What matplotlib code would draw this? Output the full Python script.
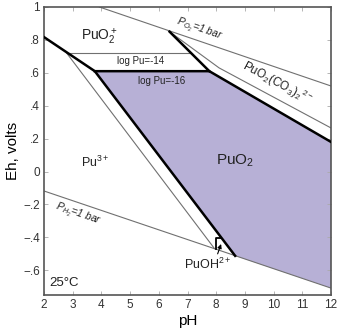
import matplotlib
matplotlib.use("Agg")
import matplotlib.pyplot as plt
from matplotlib.patches import Polygon

plt.rcParams['font.family'] = ['Liberation Sans', 'DejaVu Sans']
plt.rcParams['mathtext.fontset'] = 'custom'
plt.rcParams['mathtext.rm'] = 'Liberation Sans'
plt.rcParams['mathtext.it'] = 'Liberation Sans:italic'
plt.rcParams['mathtext.bf'] = 'Liberation Sans:bold'

# ---- data ----
xticks = [2, 3, 4, 5, 6, 7, 8, 9, 10, 11, 12]
yticks = [-0.6, -0.4, -0.2, 0.0, 0.2, 0.4, 0.6, 0.8, 1.0]
ytick_labels = ['\u2212.6', '\u2212.4', '\u2212.2', '0', '.2', '.4', '.6', '.8', '1']

# water stability limits
o2_ph = [3.93, 12.0]
o2_eh = [1.0, 0.52]
h2_ph = [2.0, 12.0]
h2_eh = [-0.118, -0.708]

# log Pu = -16 boundaries (thick)
t1_ph = [2.0, 3.77, 8.66]
t1_eh = [0.817, 0.61, -0.512]
t2_ph = [3.77, 7.76, 12.0]
t2_eh = [0.61, 0.61, 0.18]
t3_ph = [6.375, 7.76]
t3_eh = [0.85, 0.61]
t4_ph = [8.0, 8.0, 8.18]
t4_eh = [-0.472, -0.405, -0.405]

# log Pu = -14 boundaries (thin)
n1_ph = [2.79, 7.94]
n1_eh = [0.72, -0.468]
n2_ph = [2.79, 7.13]
n2_eh = [0.72, 0.72]
n3_ph = [6.375, 8.1, 12.0]
n3_eh = [0.85, 0.63, 0.265]

# PuO2 stability field
fill_ph = [3.77, 7.76, 12.0, 12.0, 8.66]
fill_eh = [0.61, 0.61, 0.18, -0.708, -0.512]

fig = plt.figure(figsize=(3.37, 3.33), dpi=100)
ax = fig.add_axes([0.1306, 0.1141, 0.8516, 0.8649])

ax.add_patch(Polygon(list(zip(fill_ph, fill_eh)), closed=True,
                     facecolor='#b7b0d6', edgecolor='none', zorder=1))

thin = dict(color='#707070', lw=0.8, zorder=2)
thick = dict(color='black', lw=1.8, zorder=3, solid_joinstyle='miter')
ax.plot(o2_ph, o2_eh, **thin)
ax.plot(h2_ph, h2_eh, **thin)
ax.plot(n1_ph, n1_eh, **thin)
ax.plot(n2_ph, n2_eh, **thin)
ax.plot(n3_ph, n3_eh, **thin)
ax.plot(t1_ph, t1_eh, **thick)
ax.plot(t2_ph, t2_eh, **thick)
ax.plot(t3_ph, t3_eh, **thick)
ax.plot(t4_ph, t4_eh, color='black', lw=1.3, zorder=3)

ax.set_xlim(2, 12)
ax.set_ylim(-0.75, 1.0)
ax.set_xticks(xticks)
ax.set_yticks(yticks)
ax.set_yticklabels(ytick_labels)
ax.tick_params(direction='in', length=3, width=0.6, color='#aaaaaa',
               top=True, right=True, labelsize=8.5, labelcolor='#333333', pad=3)
for s in ax.spines.values():
    s.set_color('#555555')
    s.set_linewidth(1.2)

ax.set_xlabel('pH', fontsize=11, labelpad=2)
ax.set_ylabel('Eh, volts', fontsize=11, labelpad=2)

tc = '#222222'
ax.text(3.94, 0.815, r'PuO$_2^+$', fontsize=10, ha='center', va='center', color=tc)
ax.text(5.37, 0.67, 'log Pu=-14', fontsize=7, ha='center', va='center', color=tc)
ax.text(6.1, 0.548, 'log Pu=-16', fontsize=7, ha='center', va='center', color=tc)
ax.text(7.42, 0.86, r'P$_{O_2}$=1 bar', fontsize=7.5, ha='center', va='center',
        rotation=-19, style='italic', color=tc)
ax.text(10.13, 0.536, r'PuO$_2$(CO$_3$)$_2$$^{2-}$', fontsize=8.5, ha='center',
        va='center', rotation=-28, color=tc)
ax.text(3.8, 0.058, r'Pu$^{3+}$', fontsize=9, ha='center', va='center', color=tc)
ax.text(8.67, 0.063, r'PuO$_2$', fontsize=11, ha='center', va='center', color=tc)
ax.text(7.69, -0.567, r'PuOH$^{2+}$', fontsize=9, ha='center', va='center', color=tc)
ax.text(3.18, -0.26, r'P$_{H_2}$=1 bar', fontsize=7.5, ha='center', va='center',
        rotation=-19, style='italic', color=tc)
ax.text(2.2, -0.68, '25\u00b0C', fontsize=9.5, ha='left', va='center', color=tc)

ax.annotate('', xy=(8.17, -0.44), xytext=(8.05, -0.50),
            arrowprops=dict(arrowstyle='-|>', color='black', lw=0.8,
                            mutation_scale=6, shrinkA=0, shrinkB=0), zorder=4)

fig.savefig('out.png', dpi=100)
